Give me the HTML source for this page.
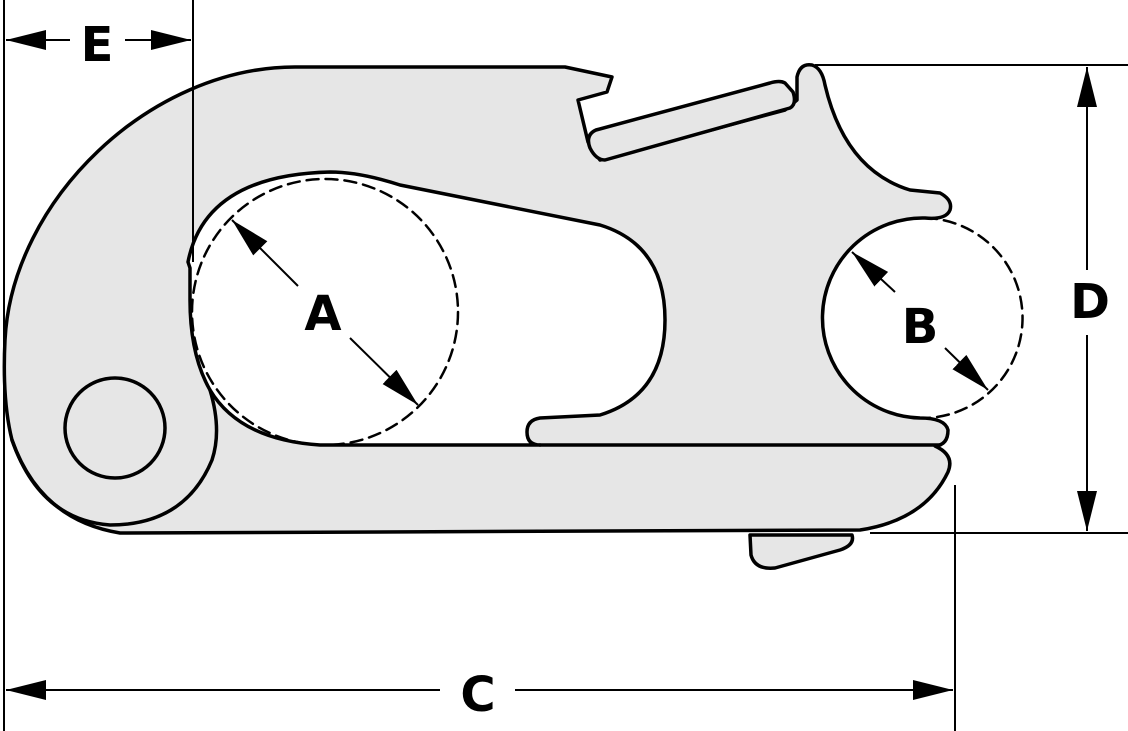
<!DOCTYPE html>
<html><head><style>html,body{margin:0;padding:0;background:#fff}svg{display:block}</style></head>
<body>
<svg width="1128" height="731" viewBox="0 0 1128 731" xmlns="http://www.w3.org/2000/svg">
<defs>
<marker id="ah2" viewBox="0 0 40 20" refX="40" refY="10" markerWidth="40" markerHeight="20" markerUnits="userSpaceOnUse" orient="auto"><path d="M0,0 L40,10 L0,20 Z" fill="#000"/></marker>
</defs>
<g stroke="#000" stroke-width="3.5" stroke-linejoin="round" stroke-linecap="round">
<path fill="#e6e6e6" fill-rule="evenodd" d="M295,67 L565,67 L612,77 L607,92 L578,100 L588,142 L600,160 L785,110 L797,100 L797,77 Q800,63 812,65 Q822,68 825,85 Q845,170 910,190 L940,193 Q953,200 950,210 Q946,220 925,218 A100,100 0 0 0 920,418 Q945,418 948,430 Q948,445 935,446 Q955,455 948,472 Q925,520 860,530 L120,533 Q40,520 12,440 Q2,400 5,340 C12,200 150,67 295,67 Z
M190,268 L188,262 Q205,175 330,172 Q360,172 400,185 L600,225 Q665,245 665,320 Q665,395 600,415 L540,418 Q527,420 527,432 Q527,445 540,445 L320,445 Q240,440 210,390 Q190,355 190,300 Z"/>
<path fill="none" d="M540,445 L940,445"/>
<path fill="none" d="M210,390 Q222,430 212,460 Q185,525 110,525 Q40,520 12,440"/>
<circle cx="115" cy="428" r="50" fill="none"/>
<path fill="#e6e6e6" d="M605,160 L790,108 Q797,104 793,92 L785,83 Q780,80 770,83 L596,130 Q585,135 590,148 Q596,160 605,160 Z"/>
<path fill="#e6e6e6" d="M750,535 L852,535 Q855,545 840,550 L775,568 Q755,570 751,555 Z"/>
<circle cx="325" cy="312" r="133" fill="none" stroke-dasharray="12,7" stroke-width="2.5"/>
<path d="M925,218 A100,100 0 0 1 920,418" fill="none" stroke-dasharray="12,7" stroke-width="2.5"/>
</g>
<g stroke="#000" stroke-width="2">
<line x1="4" y1="0" x2="4" y2="731"/>
<line x1="193" y1="0" x2="193" y2="262"/>
<line x1="955" y1="485" x2="955" y2="731"/>
<line x1="815" y1="65" x2="1128" y2="65"/>
<line x1="870" y1="533" x2="1128" y2="533"/>
<line x1="70" y1="40" x2="6" y2="40" marker-end="url(#ah2)"/>
<line x1="125" y1="40" x2="191" y2="40" marker-end="url(#ah2)"/>
<line x1="440" y1="690" x2="6" y2="690" marker-end="url(#ah2)"/>
<line x1="515" y1="690" x2="953" y2="690" marker-end="url(#ah2)"/>
<line x1="1087" y1="270" x2="1087" y2="67" marker-end="url(#ah2)"/>
<line x1="1087" y1="335" x2="1087" y2="531" marker-end="url(#ah2)"/>
<line x1="298" y1="286" x2="232" y2="220" marker-end="url(#ah2)"/>
<line x1="350" y1="338" x2="418" y2="405" marker-end="url(#ah2)"/>
<line x1="895" y1="292" x2="852" y2="252" marker-end="url(#ah2)"/>
<line x1="945" y1="348" x2="988" y2="390" marker-end="url(#ah2)"/>
</g>
<g font-family="'DejaVu Sans','Liberation Sans',sans-serif" font-weight="bold" font-size="48" text-anchor="middle" fill="#000">
<text x="97" y="61">E</text>
<text x="478" y="711">C</text>
<text x="1090" y="318">D</text>
<text x="323" y="330">A</text>
<text x="920" y="343">B</text>
</g>
</svg>
</body></html>
